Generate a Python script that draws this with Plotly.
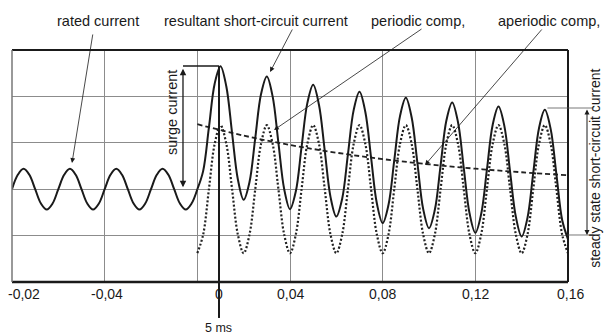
import plotly.graph_objects as go

# ---- data (time in ms, current in relative units) ----
t_rated = [-80, -77.5, -75, -72.5, -70, -67.5, -65, -62.5, -60, -57.5, -55, -52.5,
           -50, -47.5, -45, -42.5, -40, -37.5, -35, -32.5, -30, -27.5, -25, -22.5,
           -20, -17.5, -15, -12.5, -10, -7.5, -5, -2.5, 0]
i_rated = [0, 0.31, 0.44, 0.31, 0, -0.31, -0.44, -0.31,
           0, 0.31, 0.44, 0.31, 0, -0.31, -0.44, -0.31,
           0, 0.31, 0.44, 0.31, 0, -0.31, -0.44, -0.31,
           0, 0.31, 0.44, 0.31, 0, -0.31, -0.44, -0.31, 0]

t_fault = [0, 2.5, 5, 7.5, 10, 12.5, 15, 17.5, 20, 22.5, 25, 27.5, 30, 32.5, 35, 37.5,
           40, 42.5, 45, 47.5, 50, 52.5, 55, 57.5, 60, 62.5, 65, 67.5, 70, 72.5, 75, 77.5,
           80, 82.5, 85, 87.5, 90, 92.5, 95, 97.5, 100, 102.5, 105, 107.5, 110, 112.5, 115, 117.5,
           120, 122.5, 125, 127.5, 130, 132.5, 135, 137.5, 140, 142.5, 145, 147.5, 150, 152.5, 155, 157.5,
           160]
i_resultant = [0.00, 0.39, 1.33, 2.28, 2.65, 2.22, 1.21, 0.21,
               -0.23, 0.15, 1.10, 2.05, 2.43, 2.00, 1.00, 0.00,
               -0.43, -0.05, 0.91, 1.86, 2.25, 1.82, 0.83, -0.17,
               -0.59, -0.21, 0.75, 1.71, 2.10, 1.67, 0.68, -0.31,
               -0.73, -0.34, 0.62, 1.58, 1.97, 1.55, 0.56, -0.43,
               -0.84, -0.45, 0.51, 1.48, 1.87, 1.45, 0.46, -0.52,
               -0.94, -0.54, 0.42, 1.39, 1.78, 1.37, 0.38, -0.60,
               -1.02, -0.62, 0.35, 1.32, 1.71, 1.30, 0.32, -0.67,
               -1.08]
i_periodic = [-1.38, -0.98, 0, 0.98, 1.38, 0.98, 0, -0.98,
              -1.38, -0.98, 0, 0.98, 1.38, 0.98, 0, -0.98,
              -1.38, -0.98, 0, 0.98, 1.38, 0.98, 0, -0.98,
              -1.38, -0.98, 0, 0.98, 1.38, 0.98, 0, -0.98,
              -1.38, -0.98, 0, 0.98, 1.38, 0.98, 0, -0.98,
              -1.38, -0.98, 0, 0.98, 1.38, 0.98, 0, -0.98,
              -1.38, -0.98, 0, 0.98, 1.38, 0.98, 0, -0.98,
              -1.38, -0.98, 0, 0.98, 1.38, 0.98, 0, -0.98,
              -1.38]
t_aperiodic = [0, 20, 40, 60, 80, 100, 120, 140, 160]
i_aperiodic = [1.40, 1.155, 0.953, 0.787, 0.649, 0.536, 0.442, 0.365, 0.301]

# tick label positions on paper-x (fraction of plot width) and texts
tick_pos = [0.0216, 0.171, 0.3723, 0.5, 0.6667, 0.8333, 1.0036]
tick_text = ["-0,02", "-0,04", "0", "0,04", "0,08", "0,12", "0,16"]

FONT = "Liberation Sans, Arial, Helvetica, sans-serif"
BLACK = "#1a1a1a"

fig = go.Figure()
fig.add_trace(go.Scatter(x=t_rated, y=i_rated, mode="lines",
                         line=dict(color=BLACK, width=2, shape="spline"), showlegend=False, hoverinfo="skip"))
fig.add_trace(go.Scatter(x=t_fault, y=i_periodic, mode="lines",
                         line=dict(color="#222222", width=2.2, shape="spline", dash="2px,2px"), showlegend=False, hoverinfo="skip"))
fig.add_trace(go.Scatter(x=t_aperiodic, y=i_aperiodic, mode="lines",
                         line=dict(color="#222222", width=1.8, shape="spline", dash="5px,3px"), showlegend=False, hoverinfo="skip"))
fig.add_trace(go.Scatter(x=t_fault, y=i_resultant, mode="lines",
                         line=dict(color=BLACK, width=2, shape="spline"), showlegend=False, hoverinfo="skip"))

shapes = []
# borders
shapes.append(dict(type="line", xref="paper", yref="paper", x0=0, x1=1, y0=1, y1=1, line=dict(color=BLACK, width=2)))
shapes.append(dict(type="line", xref="paper", yref="paper", x0=0, x1=1, y0=0, y1=0, line=dict(color=BLACK, width=2.5)))
shapes.append(dict(type="line", xref="paper", yref="paper", x0=1, x1=1, y0=0, y1=1, line=dict(color=BLACK, width=2)))
shapes.append(dict(type="line", xref="paper", yref="paper", x0=0, x1=0, y0=0, y1=1, line=dict(color="#777777", width=1.5)))
# surge current marker lines
shapes.append(dict(type="line", xref="x", yref="y", x0=-6.19, x1=9.35, y0=2.655, y1=2.655, line=dict(color=BLACK, width=1.6)))
shapes.append(dict(type="line", xref="paper", yref="paper", x0=0.3723, x1=0.3723, y0=0.931, y1=-0.155, line=dict(color=BLACK, width=2)))
# steady-state marker lines
shapes.append(dict(type="line", xref="paper", yref="paper", x0=0.963, x1=1.046, y0=0.75, y1=0.75, line=dict(color="#555555", width=0.8)))
shapes.append(dict(type="line", xref="paper", yref="paper", x0=0.999, x1=1.046, y0=0.2026, y1=0.2026, line=dict(color="#555555", width=0.8)))

ann = []
for xp, txt in zip(tick_pos, tick_text):
    ann.append(dict(x=xp, y=0, xref="paper", yref="paper", yshift=-12, text=txt, showarrow=False,
                    xanchor="center", yanchor="middle", font=dict(size=14, color=BLACK, family=FONT)))

top_labels = [(-42.9, "rated current"), (25.3, "resultant short-circuit current"),
              (95.25, "periodic comp,"), (151.8, "aperiodic comp,")]
for xp, txt in top_labels:
    ann.append(dict(x=xp, y=1.125, xref="x", yref="paper", text=txt, showarrow=False,
                    xanchor="center", yanchor="middle", font=dict(size=14.5, color=BLACK, family=FONT)))

# pointer arrows (head in data coords, tail in pixel offsets)
arrows = [(-54.1, 0.565, 21, -130), (31.4, 2.526, 23, -44), (33.1, 1.276, 149, -102), (98.3, 0.522, 118, -137)]
for hx, hy, ax, ay in arrows:
    ann.append(dict(x=hx, y=hy, xref="x", yref="y", ax=ax, ay=ay, axref="pixel", ayref="pixel",
                    text="", showarrow=True, arrowhead=2, arrowsize=1.2, arrowwidth=0.8, arrowcolor=BLACK))

# surge current arrow
ann.append(dict(x=-6.19, y=0.04, xref="x", yref="y", ax=0, ay=-120, text="", showarrow=True,
                arrowhead=2, arrowsize=1, arrowwidth=1.3, arrowcolor=BLACK, arrowside="end+start"))
ann.append(dict(x=0.2878, y=0.728, xref="paper", yref="paper", text="surge current", textangle=-90,
                showarrow=False, xanchor="center", yanchor="middle", font=dict(size=14.5, color=BLACK, family=FONT)))
# steady state arrow
ann.append(dict(x=1.0342, y=-0.987, xref="paper", yref="y", ax=0, ay=-127, text="", showarrow=True,
                arrowhead=2, arrowsize=1, arrowwidth=1.0, arrowcolor=BLACK, arrowside="end+start"))
ann.append(dict(x=1.048, y=0.491, xref="paper", yref="paper", text="steady state short-circuit current",
                textangle=-90, showarrow=False, xanchor="center", yanchor="middle",
                font=dict(size=14, color=BLACK, family=FONT)))
ann.append(dict(x=0.3723, y=-0.198, xref="paper", yref="paper", text="5 ms", showarrow=False,
                xanchor="center", yanchor="middle", font=dict(size=12.5, color=BLACK, family=FONT)))

fig.update_layout(
    width=604, height=336,
    margin=dict(l=12, r=36, t=50, b=54),
    paper_bgcolor="white", plot_bgcolor="white",
    shapes=shapes, annotations=ann,
    hovermode=False,
    xaxis=dict(range=[-80, 160], tick0=-80, dtick=40, showgrid=True, gridcolor="#8c8c8c", gridwidth=1.2,
               showticklabels=False, zeroline=False, showline=False, ticks=""),
    yaxis=dict(range=[-2, 3], tick0=-2, dtick=1, showgrid=True, gridcolor="#8c8c8c", gridwidth=1.2,
               showticklabels=False, zeroline=False, showline=False, ticks=""),
)

fig.write_html("out.html", config={"displayModeBar": False},
               post_script="document.body.style.margin='0';document.body.style.overflow='hidden';")
